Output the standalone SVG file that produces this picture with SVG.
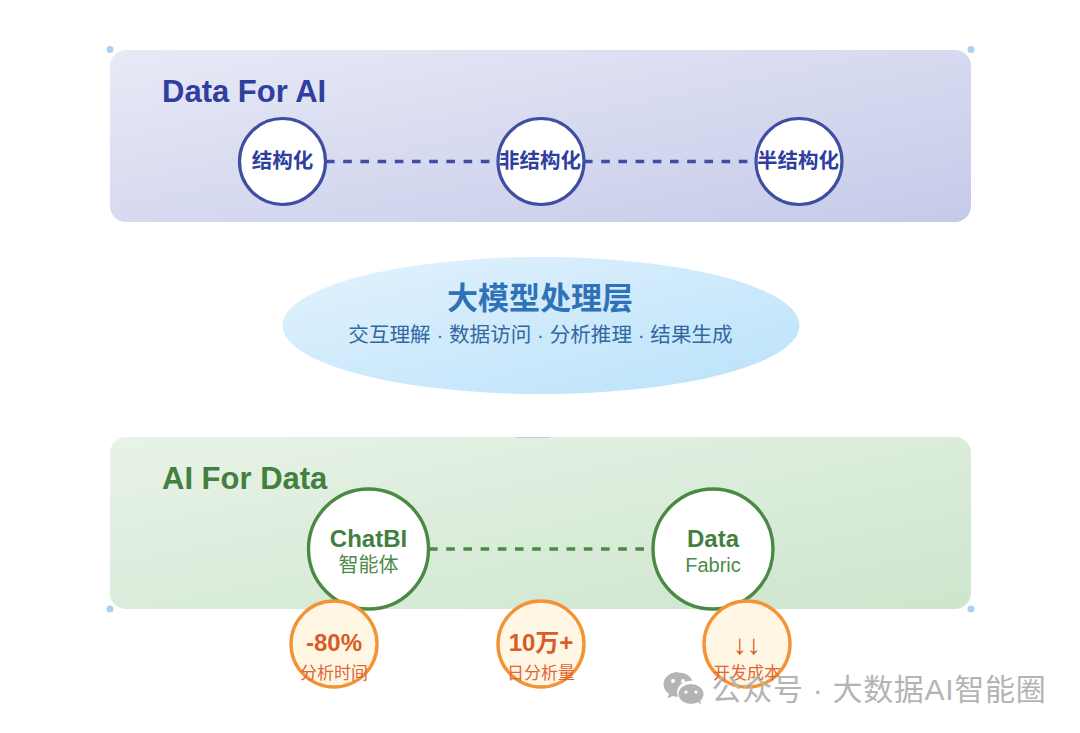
<svg xmlns="http://www.w3.org/2000/svg" width="1080" height="733" viewBox="0 0 1080 733">
<style>
text{font-family:"Liberation Sans","Noto Sans CJK SC",sans-serif;text-anchor:middle}
.b{fill:#fff;stroke:#3f4ea3;stroke-width:3.2}
.g{fill:#fff;stroke:#4a8a45;stroke-width:3.4}
.o{fill:#fff7e3;stroke:#f29435;stroke-width:3.4}
.bt{fill:#303f9f;font-weight:700;font-size:20.500px}
.gt{fill:#43803f;font-weight:700;font-size:24px}
.gs{fill:#4f8a4b;font-size:20px}
.ot{fill:#d95b27;font-weight:700;font-size:24px}
.os{fill:#e0653a;font-size:17px}
.h{font-weight:700;font-size:31px;text-anchor:start}
.dot{fill:#a9d0f7}
.wm{fill:#b4b4b4}
</style>
<defs>
<linearGradient id="gb" x1="0" y1="0" x2="1" y2="1"><stop offset="0" stop-color="#e8eaf6"/><stop offset="1" stop-color="#c5cae9"/></linearGradient>
<linearGradient id="gg" x1="0" y1="0" x2="1" y2="1"><stop offset="0" stop-color="#e8f3e8"/><stop offset="1" stop-color="#cde5cd"/></linearGradient>
<linearGradient id="gl" x1="0" y1="0" x2="1" y2="1"><stop offset="0" stop-color="#e3f2fd"/><stop offset="1" stop-color="#b9e2fa"/></linearGradient>
</defs>
<g id="panel-top"><rect x="110" y="50" width="861" height="172" rx="16" fill="url(#gb)"/><text class="h" x="162" y="102" fill="#303f9f">Data For AI</text></g>
<g id="panel-bottom"><rect x="110" y="437" width="861" height="172" rx="16" fill="url(#gg)"/><rect x="515" y="437" width="35" height="1" fill="#c3d0d8"/><text class="h" x="162" y="489" fill="#43803f">AI For Data</text></g>
<g id="handles"><circle class="dot" cx="110" cy="49.500" r="3.500"/><circle class="dot" cx="971" cy="49.500" r="3.500"/><circle class="dot" cx="110" cy="609" r="3.500"/><circle class="dot" cx="971" cy="609" r="3.500"/></g>
<g id="connectors" fill="none" stroke-width="3.400" stroke-dasharray="8.600 8.600">
<path d="M326 161.500H497" stroke="#3f4ea3"/>
<path d="M584 161.500H755" stroke="#3f4ea3"/>
<path d="M429 549H652" stroke="#4a8a45"/>
</g>
<g id="node-structured"><circle class="b" cx="282.500" cy="161.500" r="43"/><text class="bt" x="282.500" y="168">结构化</text></g>
<g id="node-unstructured"><circle class="b" cx="541" cy="161.500" r="43"/><text class="bt" x="540" y="168">非结构化</text></g>
<g id="node-semi"><circle class="b" cx="799" cy="161.500" r="43"/><text class="bt" x="798" y="168">半结构化</text></g>
<g id="node-llm"><ellipse cx="541" cy="325.500" rx="258.500" ry="68.500" fill="url(#gl)"/><text x="540" y="309" font-size="31" font-weight="700" fill="#2f72b8">大模型处理层</text><text x="540.500" y="342" font-size="20.600" fill="#33689f">交互理解 · 数据访问 · 分析推理 · 结果生成</text></g>
<g id="node-chatbi"><circle class="g" cx="368.500" cy="549" r="60"/><text class="gt" x="368.500" y="547">ChatBI</text><text class="gs" x="368.500" y="572">智能体</text></g>
<g id="node-fabric"><circle class="g" cx="713" cy="549" r="60"/><text class="gt" x="713" y="547">Data</text><text class="gs" x="713" y="572">Fabric</text></g>
<g id="stat-time"><circle class="o" cx="334" cy="644" r="43"/><text class="ot" x="334" y="651">-80%</text><text class="os" x="334" y="679">分析时间</text></g>
<g id="stat-volume"><circle class="o" cx="541" cy="644" r="43"/><text class="ot" x="541" y="651">10万+</text><text class="os" x="541" y="679">日分析量</text></g>
<g id="stat-cost"><circle class="o" cx="747" cy="644" r="43"/><text class="ot" x="747" y="654" style="font-weight:400;font-size:28px">↓↓</text><text class="os" x="747" y="679">开发成本</text></g>
<g id="watermark">
<path class="wm" d="M678 672c-8 0-14.500 5.500-14.500 12.500 0 4 2 7 5.500 9.500l-1.500 4.500 5-2.500c1.500.5 3.500.8 5.500.8-.5-1.500-.8-3-.8-4.500 0-6.500 6-11.500 13.500-11.500h1.500c-1.500-5-7-8.300-14.200-8.300z"/>
<ellipse class="wm" cx="691" cy="694" rx="12.500" ry="10"/><path class="wm" d="M697 701l4 4-1-6z"/>
<circle cx="673" cy="681" r="2" fill="#fff"/><circle cx="683" cy="681" r="2" fill="#fff"/><circle cx="686" cy="692" r="1.600" fill="#fff"/><circle cx="696" cy="692" r="1.600" fill="#fff"/>
<text x="879" y="700" font-size="30" letter-spacing="0.700" fill="#b4b4b4">公众号 · 大数据AI智能圈</text>
</g>
</svg>
